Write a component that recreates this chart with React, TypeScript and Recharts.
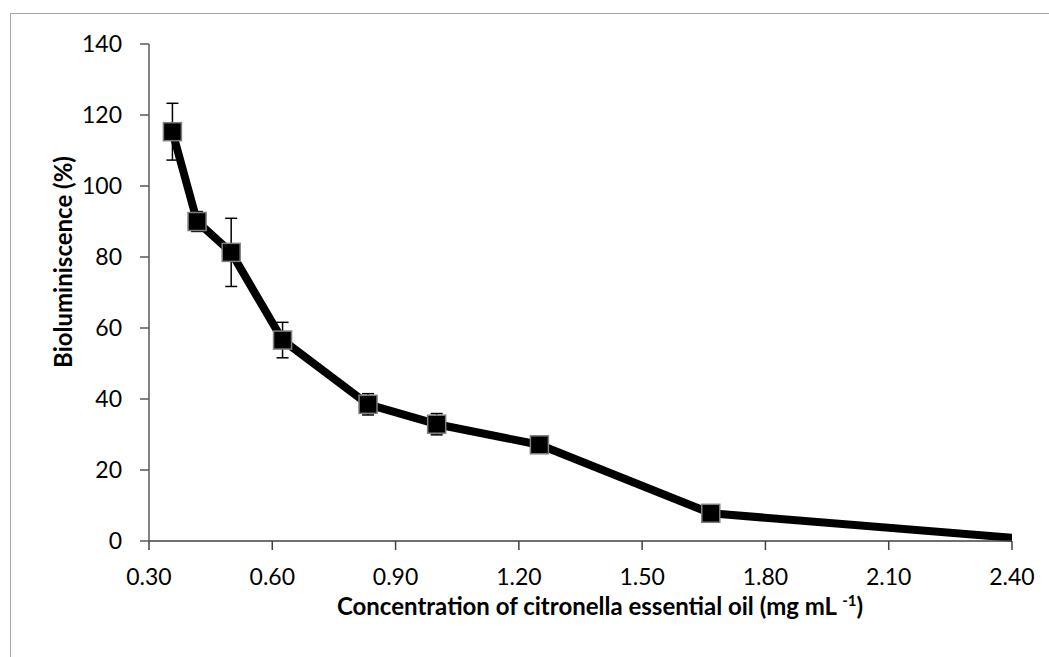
import React from 'react';
import { LineChart, Line, XAxis, YAxis, ErrorBar } from 'recharts';

const concentrations = [0.357, 0.417, 0.5, 0.625, 0.833, 1.0, 1.25, 1.667, 2.5];
const bioluminescence = [115.3, 90, 81.3, 56.6, 38.5, 32.9, 27.1, 7.8, 0];
const errors = [8, 2.8, 9.6, 5, 3, 3, 1, 1, 0];
const xTicks = [0.3, 0.6, 0.9, 1.2, 1.5, 1.8, 2.1, 2.4];
const yTicks = [0, 20, 40, 60, 80, 100, 120, 140];

const data = concentrations.map((c, i) => ({ conc: c, bio: bioluminescence[i], err: errors[i] }));

const FONT = 'Lato, "Open Sans", sans-serif';

const renderDot = (props: any) => {
  const { cx, cy, payload, index } = props;
  if (payload.conc > 2.4 || cx == null || cy == null) return <g key={`d${index}`} />;
  return (
    <rect key={`d${index}`} x={cx - 9} y={cy - 9} width={18} height={18} fill="#000" stroke="#7f7f7f" strokeWidth={1.5} />
  );
};

const XTitle = () => (
  <text x={600} y={615} textAnchor="middle" fontFamily={FONT} fontWeight="bold" fontSize={24} fill="#000">
    Concentration of citronella essential oil (mg mL <tspan dy={-9} fontSize={15}>-1</tspan>
    <tspan dy={9} fontSize={24}>)</tspan>
  </text>
);

const YTitle = () => (
  <text x={62} y={262} transform="rotate(-90 62 262)" textAnchor="middle" dominantBaseline="central" fontFamily={FONT} fontWeight="bold" fontSize={24} fill="#000">
    Bioluminiscence (%)
  </text>
);

export default function App() {
  return (
    <div style={{ position: 'absolute', left: 0, top: 0, width: 1049, height: 657, overflow: 'hidden', background: '#fff' }}>
      <div style={{ position: 'absolute', left: 10, top: 13, width: 1100, height: 700, borderLeft: '1.5px solid #a6a6a6', borderTop: '1.5px solid #a6a6a6' }} />
      <div style={{ position: 'absolute', left: 0, top: 0 }}>
        <LineChart width={1049} height={657} data={data} margin={{ top: 44, right: 37, bottom: 56, left: 0 }}>
          <XAxis
            type="number"
            dataKey="conc"
            domain={[0.3, 2.4]}
            ticks={xTicks}
            allowDataOverflow
            interval={0}
            height={60}
            tickFormatter={(v: number) => v.toFixed(2)}
            tickSize={9}
            tickMargin={19}
            axisLine={{ stroke: '#404040', strokeWidth: 1.5 }}
            tickLine={{ stroke: '#404040', strokeWidth: 1.5 }}
            tick={{ fill: '#000', fontSize: 23, fontFamily: FONT }}
            label={{ content: () => <XTitle /> }}
          />
          <YAxis
            type="number"
            domain={[0, 140]}
            ticks={yTicks}
            interval={0}
            width={149}
            tickSize={9}
            tickMargin={18}
            axisLine={{ stroke: '#595959', strokeWidth: 1.5 }}
            tickLine={{ stroke: '#595959', strokeWidth: 1.5 }}
            tick={{ fill: '#000', fontSize: 23, fontFamily: FONT }}
            label={{ content: () => <YTitle /> }}
          />
          <Line
            type="linear"
            dataKey="bio"
            stroke="#000"
            strokeWidth={8}
            strokeLinejoin="round"
            dot={renderDot}
            activeDot={false}
            isAnimationActive={false}
          >
            <ErrorBar dataKey="err" direction="y" width={6} stroke="#000" strokeWidth={1.5} isAnimationActive={false} />
          </Line>
        </LineChart>
      </div>
    </div>
  );
}
